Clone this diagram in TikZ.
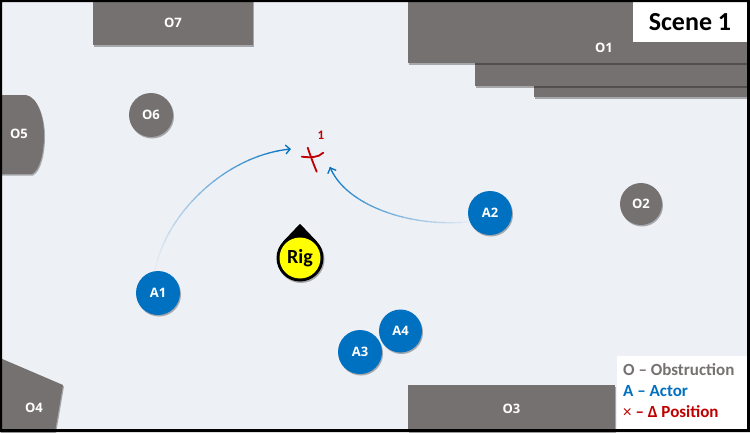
\documentclass[tikz,border=0pt]{standalone}
\usepackage{fontspec}
\setmainfont{Carlito}
\newfontfamily\osans{Open Sans}
\usetikzlibrary{arrows.meta,shadows}
\definecolor{bgcol}{HTML}{EDF0F5}
\definecolor{obsgray}{HTML}{767171}
\definecolor{actorblue}{HTML}{0070C0}
\definecolor{deltared}{HTML}{C00000}
\definecolor{rigyellow}{HTML}{FFFF00}
\begin{document}
\begin{tikzpicture}[x=1pt,y=-1pt,
  shad/.style={drop shadow={shadow xshift=1pt,shadow yshift=-1.5pt,opacity=0.3,fill=black}},
  lbl/.style={font=\osans\bfseries\fontsize{13}{15}\selectfont, text=white, inner sep=0pt},
  obsbox/.style={fill=obsgray, rectangle, inner sep=0pt, shad, lbl},
  obscirc/.style={fill=obsgray, circle, minimum size=44pt, inner sep=0pt, shad, lbl},
  actor/.style={fill=actorblue, circle, minimum size=44pt, inner sep=0pt, shad, lbl},
  legtxt/.style={font=\bfseries\fontsize{17}{18}\selectfont, anchor=west, inner sep=0pt},
  mov/.style={line width=1.3pt},
  xstroke/.style={draw=deltared, line width=1.8pt, line cap=round}
]
\useasboundingbox (0,0) rectangle (750,432);
\fill[bgcol] (0,0) rectangle (750,432);

% obstructions
\node[obsbox, minimum width=213pt, minimum height=14pt] (O1c) at (640.5,90) {};
\node[obsbox, minimum width=272pt, minimum height=26pt] (O1b) at (611,73) {};
\node[obsbox, minimum width=339pt, minimum height=63pt] (O1a) at (577.5,31.5) {};
\node[lbl] (O1) at (604,48) {O1};
\node[obsbox, minimum width=160pt, minimum height=45pt] (O7) at (173,22.5) {O7};
\node[obsbox, minimum width=207pt, minimum height=47pt] (O3) at (511.5,408.5) {O3};
\node[obscirc] (O6) at (151,115) {O6};
\node[obscirc, minimum size=42pt] (O2) at (641,204) {O2};
\fill[obsgray, shad] (0,95) -- (26,95) .. controls (38,97) and (44,118) .. (44,135)
   .. controls (44,152) and (40,170) .. (32,174) -- (0,174) -- cycle;
\node[lbl] (O5) at (19,134) {O5};
\fill[obsgray, shad] (0,358) -- (63,385) -- (55,432) -- (0,432) -- cycle;
\node[lbl] (O4) at (34,408) {O4};

% actors
\node[actor] (A1) at (158,293) {A1};
\node[actor] (A2) at (490,213) {A2};
\node[actor] (A3) at (360,352) {A3};
\node[actor, minimum size=43pt] (A4) at (400.5,331) {A4};

% rig
\fill[black, shad] (300,224) -- (317,241.8) -- (300,258) -- (283,241.8) -- cycle;
\node[circle, fill=black, minimum size=47pt, inner sep=0pt, shad] (rigout) at (300,258) {};
\fill[black] (300,224) -- (317,241.8) -- (300,258) -- (283,241.8) -- cycle;
\node[circle, fill=rigyellow, minimum size=41pt, inner sep=0pt,
      font=\bfseries\fontsize{20}{22}\selectfont] (Rig) at (300,258) {Rig};

% delta position mark
\coordinate (X) at (312,160);
\draw[xstroke] (301.7,156.7) .. controls (310,157.5) and (318,158) .. (323.3,152.7);
\draw[xstroke] (307.7,147.7) .. controls (310.5,156) and (313.5,164) .. (316.7,171.7);
\node[text=deltared, font=\bfseries\fontsize{13}{14}\selectfont, inner sep=0pt] (n1) at (321,135) {1};

% movement arrows
\coordinate (t1) at (291,149);
\coordinate (t2) at (330,167);
\foreach \i in {0,...,19}{
  \pgfmathsetmacro\p{3+97*(\i/19)^1.2}
  \pgfmathsetmacro\st{\i*10}
  \ifnum\i<19
    \draw[mov, draw=actorblue!\p!bgcol, dash pattern=on 0pt off \st pt on 10.6pt off 3000pt]
      (A1.98) .. controls (165,215) and (225,155) .. (t1);
  \else
    \draw[mov, draw=actorblue, dash pattern=on 0pt off \st pt on 3000pt off 10pt,
          -{Straight Barb[length=4.5pt,width=9pt]}]
      (A1.98) .. controls (165,215) and (225,155) .. (t1);
  \fi
}
\foreach \i in {0,...,19}{
  \pgfmathsetmacro\p{5+95*(\i/19)}
  \pgfmathsetmacro\st{\i*8.4}
  \ifnum\i<19
    \draw[mov, draw=actorblue!\p!bgcol, dash pattern=on 0pt off \st pt on 9pt off 3000pt]
      (A2.203) .. controls (410,228) and (345,205) .. (t2);
  \else
    \draw[mov, draw=actorblue, dash pattern=on 0pt off \st pt on 3000pt off 10pt,
          -{Straight Barb[length=4.5pt,width=9pt]}]
      (A2.203) .. controls (410,228) and (345,205) .. (t2);
  \fi
}

% scene label
\node[fill=white, minimum width=114pt, minimum height=40pt, inner sep=0pt,
      font=\bfseries\fontsize{26}{28}\selectfont] (scene) at (690,22) {Scene 1};

% legend
\node[fill=white, minimum width=130pt, minimum height=73pt, inner sep=0pt] (legend) at (682,392.5) {};
\node[legtxt, text=obsgray] (lo) at (623,370) {O – Obstruction};
\node[legtxt, text=actorblue] (la) at (623,391) {A – Actor};
\node[legtxt, text=deltared] (lx) at (623,412) {{\mdseries ×} – Δ Position};

% frame
\fill[black, even odd rule] (0,0) rectangle (750,432) (2,2) rectangle (747,429);
\end{tikzpicture}
\end{document}
